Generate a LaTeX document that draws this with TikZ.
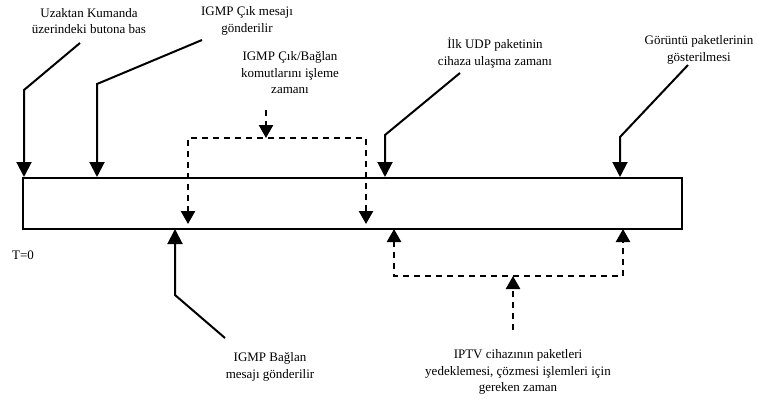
\documentclass[tikz,border=0pt]{standalone}
\usepackage{fontspec}
\setmainfont{Liberation Serif}
\usetikzlibrary{arrows.meta}
\tikzset{
  lbl/.style={align=center, inner sep=0pt, font=\fontsize{13}{16.5}\selectfont},
  bar/.style={draw, line width=2pt, inner sep=0pt},
  pointer/.style={line width=2pt, -{Triangle[length=15pt,width=15pt]}},
  dashpointer/.style={line width=2.5pt, dash pattern=on 6pt off 5pt, -{Triangle[length=13pt,width=14pt]}},
  dashspan/.style={line width=2.5pt, dash pattern=on 6pt off 5pt, {Triangle[length=13pt,width=14pt]}-{Triangle[length=13pt,width=14pt]}}
}
\begin{document}
\begin{tikzpicture}[x=1pt,y=-1pt]
  \useasboundingbox (0,0) rectangle (758,399);

  % time line bar
  \node[bar, minimum width=659pt, minimum height=51pt] (bar) at (352.5,203.5) {};

  % labels
  \node[lbl] (remote) at (89,21) {Uzaktan Kumanda\\üzerindeki butona bas};
  \node[lbl] (leave) at (247,21) {IGMP Çık mesajı\\gönderilir};
  \node[lbl] (proc) at (290,73) {IGMP Çık/Bağlan\\komutlarını işleme\\zamanı};
  \node[lbl] (udp) at (495,53) {İlk UDP paketinin\\cihaza ulaşma zamanı};
  \node[lbl] (show) at (699,50) {Görüntü paketlerinin\\gösterilmesi};
  \node[lbl] (tzero) at (23,255) {T=0};
  \node[lbl] (join) at (270,367) {IGMP Bağlan\\mesajı gönderilir};
  \node[lbl] (buffer) at (518,372) {IPTV cihazının paketleri\\yedeklemesi, çözmesi işlemleri için\\gereken zaman};

  % connector points
  \coordinate (r0) at (80,43);   \coordinate (r1) at (24,90);   \coordinate (r2) at (24,177);
  \coordinate (l0) at (202,40);  \coordinate (l1) at (97,84);   \coordinate (l2) at (97,177);
  \coordinate (u0) at (460,73);  \coordinate (u1) at (385,135); \coordinate (u2) at (385,177);
  \coordinate (s0) at (688,65);  \coordinate (s1) at (620,137); \coordinate (s2) at (620,177);
  \coordinate (j0) at (225,338); \coordinate (j1) at (175,295); \coordinate (j2) at (175,229);
  \coordinate (p0) at (266,110); \coordinate (p1) at (266,138);
  \coordinate (pa) at (188,224); \coordinate (pb) at (188,138);
  \coordinate (pc) at (366,138); \coordinate (pd) at (366,224);
  \coordinate (b0) at (513,330); \coordinate (b1) at (513,276);
  \coordinate (ba) at (394,229); \coordinate (bb) at (394,276);
  \coordinate (bc) at (623,276); \coordinate (bd) at (623,229);

  % solid event pointers
  \draw[pointer] (r0) -- (r1) -- (r2);
  \draw[pointer] (l0) -- (l1) -- (l2);
  \draw[pointer] (u0) -- (u1) -- (u2);
  \draw[pointer] (s0) -- (s1) -- (s2);
  \draw[pointer] (j0) -- (j1) -- (j2);

  % dashed processing intervals
  \draw[dashpointer] (p0) -- (p1);
  \draw[dashspan] (pa) -- (pb) -- (pc) -- (pd);
  \draw[dashpointer] (b0) -- (b1);
  \draw[dashspan] (ba) -- (bb) -- (bc) -- (bd);
\end{tikzpicture}
\end{document}
